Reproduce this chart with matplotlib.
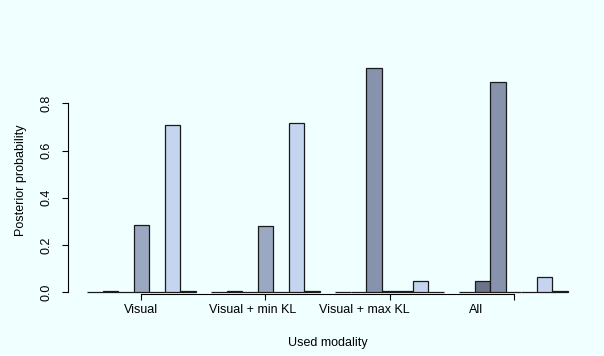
import numpy as np
import matplotlib
matplotlib.use("Agg")
from matplotlib import pyplot as plt

plt.rcParams['font.family'] = ['Liberation Sans', 'DejaVu Sans']

groups = ['Visual', 'Visual + min KL', 'Visual + max KL', 'All']
# posterior per class (7 classes per group)
visual = [0.001, 0.003, 0.001, 0.285, 0.0, 0.710, 0.003]
visual_min_kl = [0.001, 0.003, 0.001, 0.280, 0.0, 0.715, 0.003]
visual_max_kl = [0.001, 0.001, 0.950, 0.003, 0.003, 0.045, 0.0]
all_mod = [0.0, 0.045, 0.890, 0.0, 0.0, 0.062, 0.003]
label_pos = [4.5, 11.7, 18.9, 26.1]

colors = ['#525869', '#6b7389', '#8793ac', '#9ba8c2', '#b0bedb', '#c5d5f0', '#dae6fc']
bg = '#f0ffff'

data = [visual, visual_min_kl, visual_max_kl, all_mod]

fig = plt.figure(figsize=(6.04, 3.56), dpi=100, facecolor=bg)
ax = fig.add_axes([68/604, (356-301)/356, (587-68)/604, (301-59)/356], facecolor=bg)

centers = []
for g, vals in enumerate(data):
    start = 1 + 8*g
    x = start + np.arange(len(vals))
    ax.bar(x, vals, width=1, align='edge', color=colors, edgecolor='#1a1a1a', linewidth=0.9)
    centers.append(start + len(vals)/2)

ax.set_xlim(-0.24, 33.24)
ax.set_ylim(-0.038, 0.988)

for s in ['top', 'right']:
    ax.spines[s].set_visible(False)
ax.spines['left'].set_bounds(0, 0.8)
ax.spines['bottom'].set_position(('data', -0.009))
ax.spines['bottom'].set_bounds(centers[0], centers[-1])

ax.set_yticks([0, 0.2, 0.4, 0.6, 0.8])
ax.set_yticklabels(['0.0', '0.2', '0.4', '0.6', '0.8'], rotation=90, va='center')
ax.tick_params(axis='y', direction='out', length=4, width=0.8, pad=7, labelsize=9)

ax.xaxis.remove_overlapping_locs = False
ax.set_xticks(centers)
ax.set_xticklabels([])
ax.tick_params(axis='x', which='major', direction='out', length=4.5, width=0.8)
ax.set_xticks(label_pos, minor=True)
ax.set_xticklabels(groups, minor=True)
ax.tick_params(axis='x', which='minor', length=0, pad=7, labelsize=9)

ax.set_xlabel('Used modality', fontsize=9, labelpad=15)
ax.set_ylabel('Posterior probability', fontsize=9, labelpad=10)

fig.savefig('out.png', dpi=100, facecolor=bg)
